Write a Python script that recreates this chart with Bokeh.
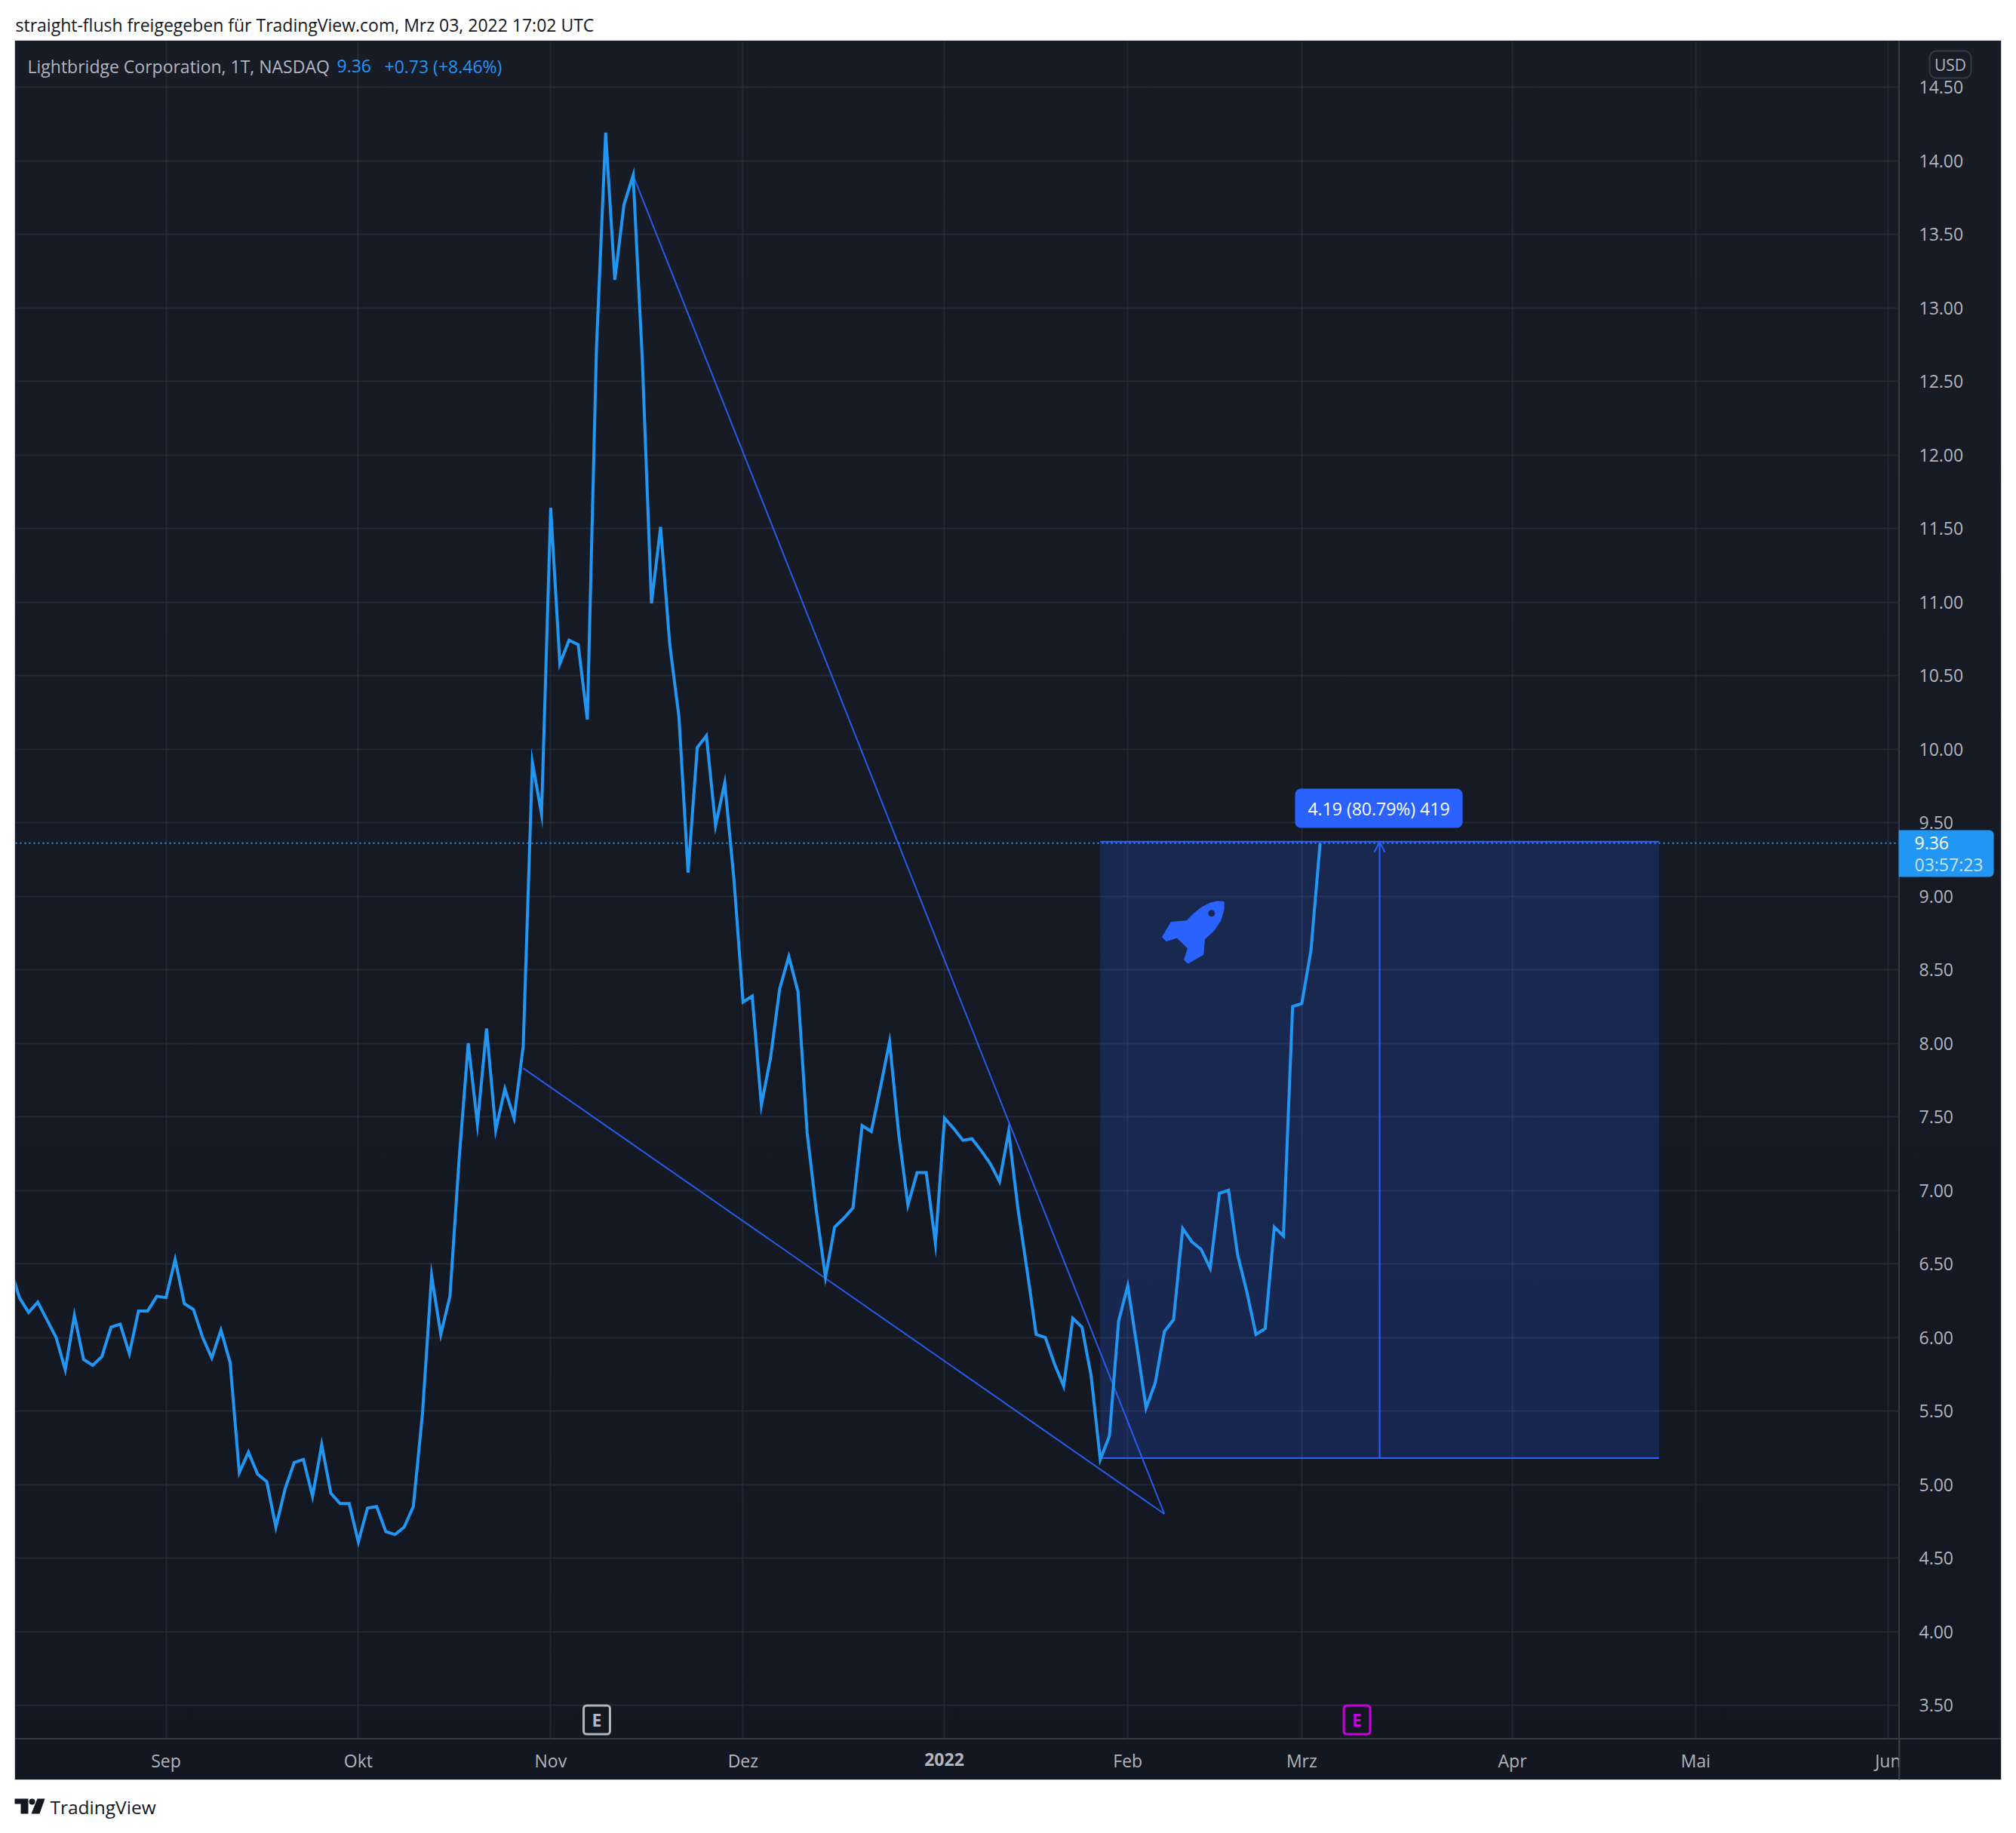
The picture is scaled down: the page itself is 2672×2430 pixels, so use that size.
import numpy as np
from bokeh.embed import file_html
from bokeh.resources import INLINE
from bokeh.layouts import column
from bokeh.models import (Arrow, ColumnDataSource, FixedTicker, Label, NumeralTickFormatter, OpenHead, Range1d, Span)
from bokeh.core.properties import value
from bokeh.plotting import figure

# ---- data -------------------------------------------------------------
first_bar = -17
prices = [6.47, 6.27, 6.17, 6.24, 6.12, 6.00, 5.78, 6.15, 5.85, 5.81, 5.87, 6.07, 6.09, 5.89, 6.18, 6.18, 6.28,
          6.27, 6.53, 6.23, 6.19, 6.00, 5.86, 6.05, 5.83, 5.08, 5.22,
          5.07, 5.02, 4.71, 4.97, 5.15, 5.17, 4.92, 5.27, 4.94, 4.87,
          4.87, 4.61, 4.84, 4.85, 4.68, 4.66, 4.71, 4.85, 5.48, 6.42,
          6.02, 6.28, 7.21, 8.00, 7.45, 8.10, 7.41, 7.69, 7.49, 7.98,
          9.91, 9.56, 11.64, 10.58, 10.74, 10.71, 10.20, 12.73, 14.19, 13.19,
          13.70, 13.90, 12.65, 10.99, 11.51, 10.71, 10.22, 9.16, 10.01, 10.09,
          9.48, 9.77, 9.12, 8.28, 8.32, 7.58, 7.90, 8.37, 8.59, 8.35,
          7.39, 6.86, 6.41, 6.75, 6.81, 6.88, 7.44, 7.40, 7.70, 8.01,
          7.38, 6.90, 7.12, 7.12, 6.64, 7.49, 7.42, 7.34, 7.35, 7.27,
          7.18, 7.06, 7.40, 6.88, 6.46, 6.02, 6.00, 5.82, 5.67, 6.13,
          6.07, 5.74, 5.17, 5.33, 6.11, 6.35, 5.94, 5.52, 5.69, 6.04,
          6.12, 6.74, 6.65, 6.60, 6.47, 6.98, 7.00, 6.56, 6.31, 6.02,
          6.06, 6.75, 6.69, 8.25, 8.27, 8.63, 9.36]
month_bars = [0, 21, 42, 63, 85, 105, 124, 147, 167, 188]
month_labels = ["Sep", "Okt", "Nov", "Dez", "2022", "Feb", "Mrz", "Apr", "Mai", "Jun"]
price_ticks = [3.5 + 0.5 * i for i in range(23)]
wedge_upper_bars, wedge_upper_vals = [51, 109], [13.90, 4.80]
wedge_lower_bars, wedge_lower_vals = [39, 109], [7.83, 4.80]
box_bars, box_low, box_high = [102, 163], 5.18, 9.37
arrow_bar = 132.5
last_price = 9.36
measure_text = "4.19 (80.79%) 419"

# ---- colours, fonts ---------------------------------------------------
FONT = "Open Sans"
LINE = "#2196f3"
DRAW = "#2962ff"
GRID = "#2a2e39"
TXT = "#b2b5be"
EDGE = "#363a45"
SIZE = "23px"

# ---- geometry (page pixels) used for screen-anchored decorations ------
PX0, BAR_PX = 219.5, 12.14
VAL0, VAL_PX = 14.5, 195.0
PY0 = 115.0
def X(px): return (px - PX0) / BAR_PX
def Y(py): return VAL0 - (py - PY0) / VAL_PX

L, R, T, B = 20, 2517, 54, 2305
OUT_R, OUT_B = 2652, 2359
PAGE_W, PAGE_H = 2660, 2420

# ---- main panel --------------------------------------------------------
p = figure(width=OUT_R - L, height=OUT_B - T, frame_width=R - L, frame_height=B - T,
           x_range=Range1d(X(L), X(R)), y_range=Range1d(Y(B), Y(T)),
           y_axis_location="right", output_backend="svg", toolbar_location=None,
           min_border_left=0, min_border_top=0, min_border_right=OUT_R - R, min_border_bottom=OUT_B - B,
           margin=(T, PAGE_W - OUT_R, PAGE_H - OUT_B, L))
p.styles = {
    "background": ("linear-gradient(#363a45,#363a45) %dpx 0/2px 100%% no-repeat,"
                   "linear-gradient(#363a45,#363a45) 0 %dpx/100%% 2px no-repeat,"
                   "linear-gradient(#181c27,#131722)") % (R - L - 1, B - T - 1),
    "outline": "1px solid #d1d4dc",
}
p.background_fill_alpha = 0
p.border_fill_alpha = 0
p.outline_line_alpha = 0

p.xaxis.ticker = FixedTicker(ticks=month_bars)
p.xaxis.major_label_overrides = {b: (l if l != "2022" else " ") for b, l in zip(month_bars, month_labels)}
p.yaxis.ticker = FixedTicker(ticks=price_ticks)
p.yaxis.formatter = NumeralTickFormatter(format="0.00")
for ax in (p.xaxis[0], p.yaxis[0]):
    ax.axis_line_alpha = 0
    ax.major_tick_line_alpha = 0
    ax.minor_tick_line_alpha = 0
    ax.major_label_text_color = TXT
    ax.major_label_text_font = FONT
    ax.major_label_text_font_size = SIZE
p.yaxis.major_label_standoff = 20
p.xaxis.major_label_standoff = 6
p.xgrid.grid_line_color = GRID
p.ygrid.grid_line_color = GRID
p.xgrid.grid_line_width = 2
p.ygrid.grid_line_width = 2
p.xgrid.grid_line_alpha = 0.75
p.ygrid.grid_line_alpha = 0.75

bars = np.arange(first_bar, first_bar + len(prices))

# measured range box
p.quad(left=box_bars[0], right=box_bars[1], bottom=box_low, top=box_high,
       fill_color=DRAW, fill_alpha=0.2, line_alpha=0)

# wedge lines
p.line(wedge_upper_bars, wedge_upper_vals, line_color=DRAW, line_width=2, line_alpha=0.9)
p.line(wedge_lower_bars, wedge_lower_vals, line_color=DRAW, line_width=2, line_alpha=0.9)

# last-price line
p.add_layout(Span(location=last_price, dimension="width", line_color=LINE, line_width=2, line_dash="2 4"))

# box edges, arrow
p.line(box_bars, [box_low, box_low], line_color=DRAW, line_width=2)
p.line(box_bars, [box_high, box_high], line_color=DRAW, line_width=2)
p.add_layout(Arrow(end=OpenHead(size=14, line_color=DRAW, line_width=2),
                   x_start=arrow_bar, y_start=box_low, x_end=arrow_bar, y_end=box_high,
                   line_color=DRAW, line_width=2))

# price
src = ColumnDataSource(dict(bar=bars, price=prices))
p.line("bar", "price", source=src, line_color=LINE, line_width=4, line_join="miter")

# rocket icon
rocket_px = [(545, 525), (520, 523), (490, 530), (455, 548), (425, 572), (397, 601), (335, 606), (300, 665),
             (315, 681), (358, 668), (402, 710), (387, 755), (402, 770), (463, 735), (468, 674), (505, 640),
             (532, 600), (545, 555)]
p.patch([X(1440 + a / 3) for a, _ in rocket_px], [Y(1020 + b / 3) for _, b in rocket_px],
        fill_color=DRAW, line_color=DRAW, line_width=1)
p.scatter([X(1440 + 496 / 3)], [Y(1020 + 571 / 3)], size=9, fill_color="#1b2854", line_alpha=0)

def label(px, py, text, color=TXT, size=SIZE, align="left", baseline="middle", weight="normal", **kw):
    l = Label(x=X(px), y=Y(py), text=text, text_color=color, text_font=FONT, text_font_size=size,
              text_align=align, text_baseline=baseline, text_font_style=weight, **kw)
    p.add_layout(l)
    return l

# measure tag
label(1827, 1071, measure_text, "#ffffff", SIZE, "center",
      background_fill_color=DRAW, padding=(17, 10), border_radius=8)

# legend line
label(36, 87, "Lightbridge Corporation, 1T, NASDAQ", TXT, SIZE)
label(446, 87, "9.36", LINE, SIZE)
label(509, 87, "+0.73 (+8.46%)", LINE, SIZE)

# earnings markers
label(790.5, 2279.5, "E", TXT, "23px", "center", weight="bold",
      background_fill_color="#131722", border_line_color=TXT, border_line_width=3, padding=(11, 3), border_radius=4)
label(1798, 2279.5, "E", "#c800dc", "23px", "center", weight="bold",
      background_fill_color="#131722", border_line_color="#c800dc", border_line_width=3, padding=(11, 3), border_radius=4)

# ---- overlay: everything outside the plotting frame (page pixels) -------
ov = figure(width=PAGE_W, height=PAGE_H, frame_width=PAGE_W, frame_height=PAGE_H,
            x_range=Range1d(0, PAGE_W), y_range=Range1d(PAGE_H, 0),
            output_backend="svg", toolbar_location=None,
            min_border_left=0, min_border_right=0, min_border_top=0, min_border_bottom=0,
            x_axis_type=None, y_axis_type=None, outline_line_alpha=0)
ov.grid.visible = False
ov.background_fill_alpha = 0
ov.border_fill_alpha = 0
ov.styles = {"position": "absolute", "left": "0px", "top": "0px"}

def otext(x, y, t, color=TXT, size=SIZE, align="left", style="normal"):
    ov.text([x], [y], text=[t], text_font=value(FONT), text_font_size=size, text_color=color,
            text_align=align, text_baseline="middle", text_font_style=style)

otext(20, 32, "straight-flush freigegeben für TradingView.com, Mrz 03, 2022 17:02 UTC", "#131722")

# Jun label is cut by the price scale
ov.quad(left=R + 1, right=R + 30, top=B + 3, bottom=OUT_B - 2, fill_color="#131722", line_alpha=0)
ov.segment([R], [B], [R], [OUT_B], line_color=EDGE, line_width=2)

otext(1251, 2332, "2022", TXT, SIZE, "center", "bold")

# USD badge
ov.quad(left=2557, right=2612, top=67, bottom=103, fill_alpha=0, line_color=EDGE, line_width=2, border_radius=9)
otext(2584.5, 85, "USD", TXT, "21px", "center")

# last price tag
ov.quad(left=2516, right=2642, top=1100, bottom=1162, fill_color=LINE, line_alpha=0,
        border_radius=(0, 6, 6, 0))
otext(2537, 1117, "9.36", "#ffffff")
otext(2537, 1145, "03:57:23", "#c4e3fc")

# TradingView mark
ov.patch([19, 37, 37, 27, 27, 19], [2384, 2384, 2404, 2404, 2391, 2391], fill_color="#131722", line_alpha=0)
ov.scatter([42], [2388], size=8, fill_color="#131722", line_alpha=0)
ov.patch([49, 59, 52, 41], [2384, 2384, 2404, 2404], fill_color="#131722", line_alpha=0)
otext(66, 2395, "TradingView", "#131722", "24.5px")

open("out.html", "w").write(file_html(column(p, ov), INLINE))
